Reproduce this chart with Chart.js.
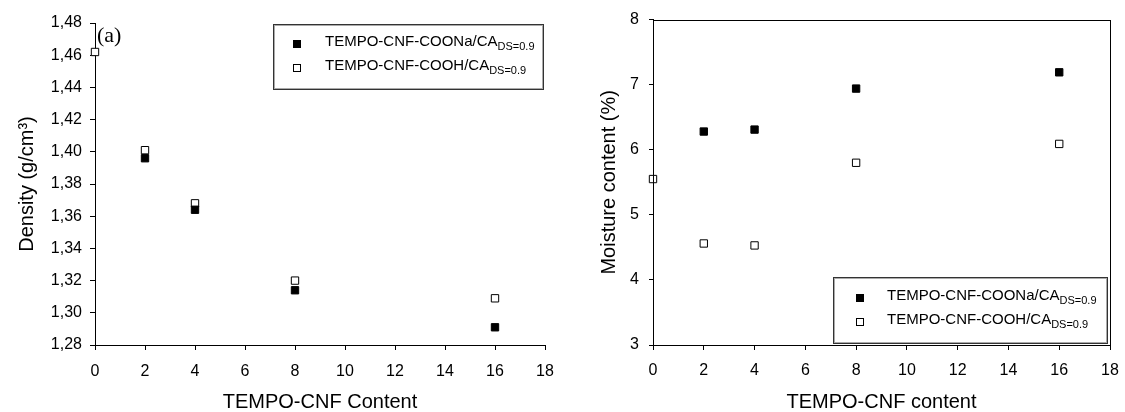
<!DOCTYPE html>
<html>
<head>
<meta charset="utf-8">
<script src="https://cdn.jsdelivr.net/npm/chart.js"></script>
<style>
  html, body { margin: 0; padding: 0; background: #fff; }
  #wrap { position: relative; width: 1125px; height: 412px; }
  #chartA { position: absolute; left: 0; top: 0; }
  #chartB { position: absolute; left: 560px; top: 0; }
</style>
</head>
<body>
<div id="wrap">
  <canvas id="chartA" width="560" height="412"></canvas>
  <canvas id="chartB" width="565" height="412"></canvas>
</div>
<script>
// data
const cnfContent = [0, 2, 4, 8, 16];
const densityCOONa = [null, 1.396, 1.364, 1.314, 1.291];
const densityCOOH = [1.462, 1.401, 1.368, 1.320, 1.309];
const moistureCOONa = [null, 6.28, 6.31, 6.94, 7.19];
const moistureCOOH = [5.55, 4.56, 4.53, 5.80, 6.09];

const seriesNames = ['TEMPO-CNF-COONa/CA', 'TEMPO-CNF-COOH/CA'];
const seriesSub = 'DS=0.9';

const xTicks = [0, 2, 4, 6, 8, 10, 12, 14, 16, 18];
const densityTicks = [1.28, 1.30, 1.32, 1.34, 1.36, 1.38, 1.40, 1.42, 1.44, 1.46, 1.48];
const moistureTicks = [3, 4, 5, 6, 7, 8];

const SANS = '"Liberation Sans", Arial, sans-serif';
Chart.defaults.font.family = SANS;
Chart.defaults.color = '#000';

function toPoints(values) {
    const pts = [];
    values.forEach((v, i) => {
        if (v !== null) pts.push({ x: cnfContent[i], y: v });
    });
    return pts;
}

function makeDatasets(filled, open) {
    return [
        {
            label: seriesNames[0],
            data: toPoints(filled),
            pointStyle: 'rect',
            pointRadius: 5.2,
            backgroundColor: '#000',
            borderColor: '#000',
            borderWidth: 1,
            clip: false
        },
        {
            label: seriesNames[1],
            data: toPoints(open),
            pointStyle: 'rect',
            pointRadius: 5.2,
            backgroundColor: '#fff',
            borderColor: '#000',
            borderWidth: 1,
            clip: false
        }
    ];
}

// legend box, panel letter and optional frame
function decor(opts) {
    return {
        id: 'decor',
        afterDraw(chart) {
            const ctx = chart.ctx;
            const a = chart.chartArea;
            ctx.save();
            if (opts.frame) {
                ctx.strokeStyle = '#000';
                ctx.lineWidth = 1;
                ctx.strokeRect(Math.round(a.left) + 0.5, Math.round(a.top) + 0.5,
                    Math.round(a.right - a.left), Math.round(a.bottom - a.top));
            }
            ctx.fillStyle = '#000';
            ctx.font = opts.tagFont;
            ctx.textAlign = 'left';
            ctx.textBaseline = 'middle';
            ctx.fillText(opts.tag, opts.tagX, opts.tagY);

            const b = opts.box;
            ctx.fillStyle = '#fff';
            ctx.fillRect(b.x, b.y, b.w, b.h);
            ctx.lineWidth = 1;
            ctx.strokeStyle = '#aaa';
            ctx.strokeRect(b.x + 1.5, b.y + 1.5, b.w - 2, b.h - 2);
            ctx.strokeStyle = '#333';
            ctx.strokeRect(b.x + 0.5, b.y + 0.5, b.w, b.h);

            chart.data.datasets.forEach((ds, i) => {
                const ty = b.rowY[i];
                ctx.fillStyle = ds.backgroundColor;
                ctx.strokeStyle = '#000';
                ctx.fillRect(b.markX - 3.5, ty - 1.5, 7, 7);
                ctx.strokeRect(b.markX - 3.5, ty - 1.5, 7, 7);
                ctx.fillStyle = '#000';
                ctx.font = '15px ' + SANS;
                ctx.textBaseline = 'middle';
                ctx.fillText(seriesNames[i], b.textX, ty);
                const w = ctx.measureText(seriesNames[i]).width;
                ctx.font = '11px ' + SANS;
                ctx.fillText(seriesSub, b.textX + w, ty + 5);
            });
            ctx.restore();
        }
    };
}

function makeChart(canvasId, cfg) {
    return new Chart(document.getElementById(canvasId), {
        type: 'scatter',
        data: { datasets: makeDatasets(cfg.filled, cfg.open) },
        options: {
            responsive: false,
            animation: false,
            layout: {
                autoPadding: false,
                padding: { top: cfg.top, right: cfg.right, left: 0, bottom: 0 }
            },
            plugins: { legend: { display: false }, tooltip: { enabled: false } },
            scales: {
                x: {
                    type: 'linear',
                    min: xTicks[0],
                    max: xTicks[xTicks.length - 1],
                    afterBuildTicks: s => { s.ticks = xTicks.map(v => ({ value: v })); },
                    afterFit: s => {
                        s.height = 412 - cfg.bottom;
                        // tick padding would otherwise widen the right margin
                        s.paddingLeft = 0;
                        s.paddingRight = 0;
                    },
                    grid: { drawOnChartArea: false, tickLength: 5, color: '#000' },
                    border: { color: '#000', width: 1 },
                    ticks: { font: { size: 16 }, padding: cfg.xPad, maxRotation: 0 },
                    title: {
                        display: true,
                        text: cfg.xTitle,
                        font: { size: 20, lineHeight: 1 },
                        padding: { top: 0, bottom: 0 }
                    }
                },
                y: {
                    type: 'linear',
                    min: cfg.yTicks[0],
                    max: cfg.yTicks[cfg.yTicks.length - 1],
                    afterBuildTicks: s => { s.ticks = cfg.yTicks.map(v => ({ value: v })); },
                    afterFit: s => { s.width = cfg.left; },
                    grid: { drawOnChartArea: false, tickLength: cfg.yTickLen, color: '#000' },
                    border: { color: '#000', width: 1 },
                    ticks: { font: { size: 16 }, padding: cfg.yPad, callback: cfg.yFormat },
                    title: {
                        display: true,
                        text: cfg.yTitle,
                        font: { size: 20 },
                        padding: { top: cfg.yTitlePad, bottom: 0 }
                    }
                }
            }
        },
        plugins: [decor(cfg.decor)]
    });
}

makeChart('chartA', {
    filled: densityCOONa,
    open: densityCOOH,
    yTicks: densityTicks,
    yFormat: v => v.toFixed(2).replace('.', ','),
    xTitle: 'TEMPO-CNF Content',
    yTitle: 'Density (g/cm³)',
    left: 95, right: 15, top: 23, bottom: 345,
    xPad: 12, yTickLen: 5, yPad: 8, yTitlePad: 15,
    decor: {
        frame: false,
        tag: '(a)', tagFont: '22px "Liberation Serif", "Times New Roman", serif', tagX: 97, tagY: 36,
        box: { x: 273, y: 24, w: 270, h: 65, markX: 297, textX: 325, rowY: [42, 66] }
    }
});

makeChart('chartB', {
    filled: moistureCOONa,
    open: moistureCOOH,
    yTicks: moistureTicks,
    yFormat: v => String(v),
    xTitle: 'TEMPO-CNF content',
    yTitle: 'Moisture content (%)',
    left: 93, right: 15, top: 16, bottom: 345,
    xPad: 11, yTickLen: 4, yPad: 10, yTitlePad: 37,
    decor: {
        frame: true,
        tag: '(b)', tagFont: '22px Lato, "Open Sans", sans-serif', tagX: 657, tagY: 31,
        box: { x: 273, y: 277, w: 274, h: 66, markX: 300, textX: 327, rowY: [296, 320] }
    }
});
</script>
</body>
</html>
